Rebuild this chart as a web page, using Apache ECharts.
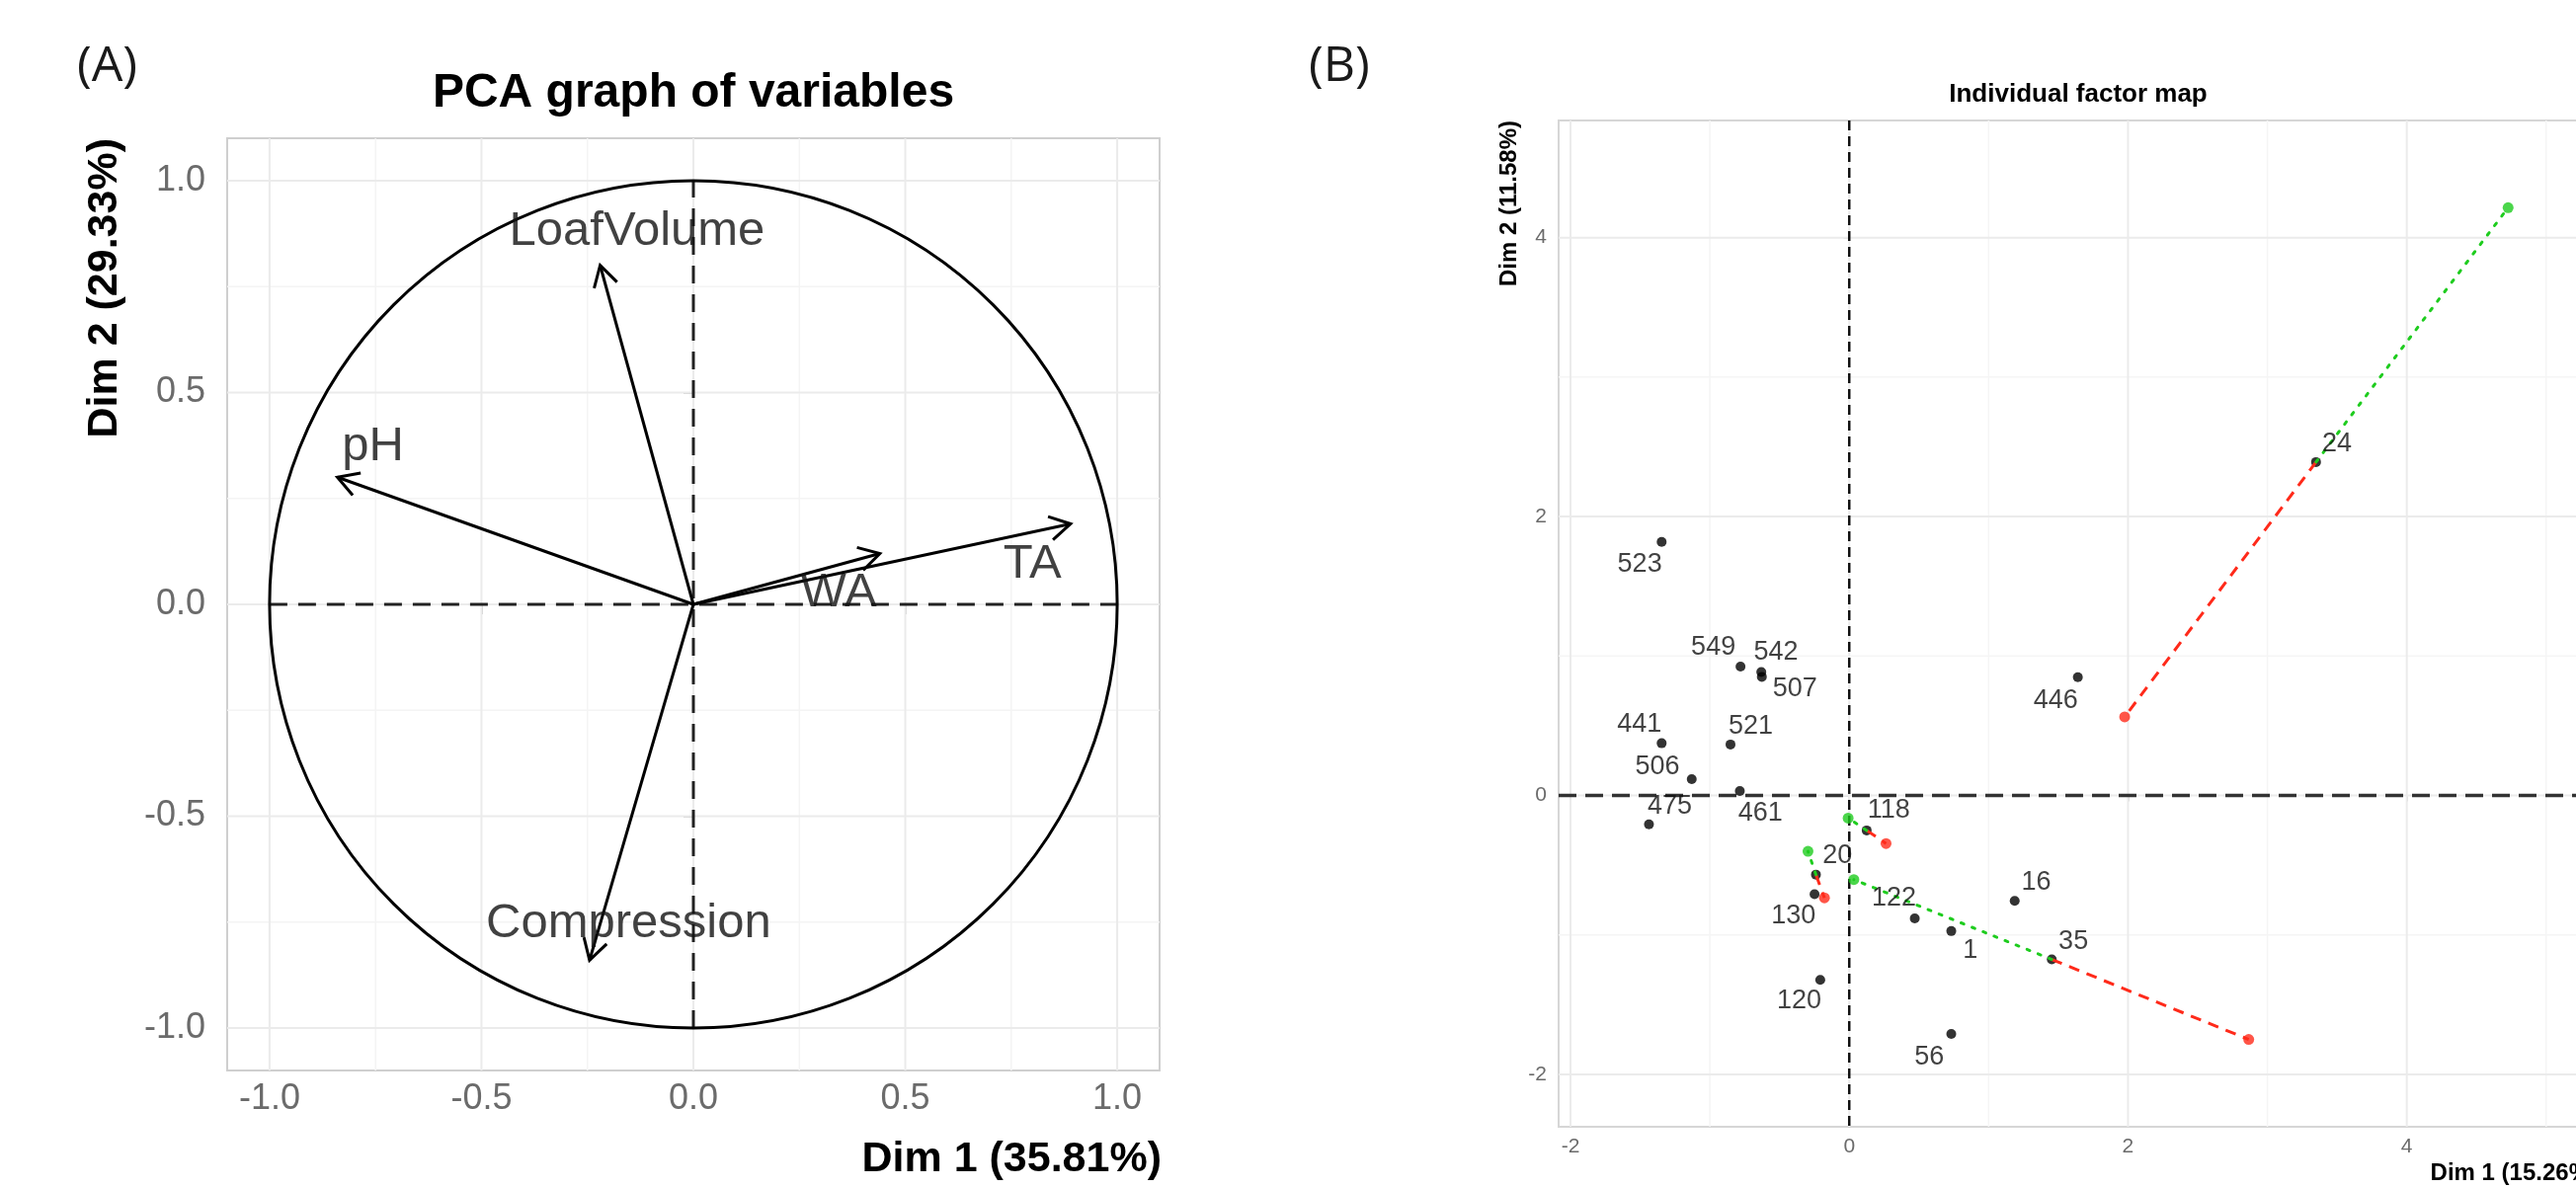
<!DOCTYPE html>
<html><head><meta charset="utf-8">
<script src="https://cdn.jsdelivr.net/npm/echarts@6/dist/echarts.min.js"></script>
<style>html,body{margin:0;padding:0;background:#fff}#c{width:2608px;height:1203px}</style>
</head><body><div id="c"></div>
<script>
// ---------- Panel A: variables ----------
const varNames = ['LoafVolume', 'pH', 'TA', 'WA', 'Compression'];
const varDim1 = [-0.22, -0.84, 0.89, 0.44, -0.245];
const varDim2 = [0.80, 0.30, 0.19, 0.12, -0.84];
const varLabelDim1 = [-0.133, -0.756, 0.80, 0.343, -0.153];
const varLabelDim2 = [0.88, 0.371, 0.094, 0.028, -0.754];
const circleRadius = [1];
const majorTicksA = [-1, -0.5, 0, 0.5, 1];
const minorTicksA = [-0.75, -0.25, 0.25, 0.75];
const refSegmentsA = [[-1, 0, 1, 0], [0, -1, 0, 1]];

// ---------- Panel B: individuals ----------
const indNames = ['523','549','542','507','441','521','506','461','475','118','20','130','122','1','16','35','120','56','446','24'];
const indDim1 = [-1.346,-0.780,-0.631,-0.627,-1.346,-0.852,-1.130,-0.785,-1.437,0.125,-0.239,-0.249,0.470,0.732,1.187,1.453,-0.208,0.732,1.640,3.349];
const indDim2 = [1.819,0.924,0.886,0.851,0.375,0.366,0.117,0.032,-0.206,-0.250,-0.567,-0.708,-0.881,-0.972,-0.755,-1.175,-1.322,-1.709,0.848,2.391];
const indLabelDim1 = [-1.503,-0.975,-0.526,-0.390,-1.506,-0.707,-1.377,-0.637,-1.288,0.283,-0.084,-0.400,0.321,0.868,1.342,1.608,-0.359,0.574,1.481,3.500];
const indLabelDim2 = [1.658,1.060,1.027,0.768,0.507,0.498,0.205,-0.127,-0.077,-0.109,-0.432,-0.867,-0.734,-1.110,-0.623,-1.049,-1.474,-1.877,0.678,2.521];
const partialInd = ['24', '35', '118', '20'];
const greenDim1 = [4.727, 0.033, -0.008, -0.296];
const greenDim2 = [4.215, -0.603, -0.162, -0.400];
const redDim1 = [1.976, 2.866, 0.264, -0.178];
const redDim2 = [0.564, -1.749, -0.344, -0.734];
const majorTicksBx = [-2, 0, 2, 4];
const minorTicksBx = [-1, 1, 3, 5];
const majorTicksBy = [-2, 0, 2, 4];
const minorTicksBy = [-1, 1, 3];

const FONT = 'Liberation Sans, Arial, Helvetica, sans-serif';

function gridSeries(ai, xT, yT, color, width) {
  const data = xT.map(v => [v, 0]).concat(yT.map(v => [v, 1]));
  return {
    type: 'custom', xAxisIndex: ai, yAxisIndex: ai, z: 1, silent: true,
    data: data,
    renderItem(params, api) {
      const v = api.value(0), dir = api.value(1), cs = params.coordSys;
      if (dir === 0) {
        const x = api.coord([v, 0])[0];
        return {type: 'line', shape: {x1: x, y1: cs.y, x2: x, y2: cs.y + cs.height}, style: {stroke: color, lineWidth: width}};
      }
      const y = api.coord([0, v])[1];
      return {type: 'line', shape: {x1: cs.x, y1: y, x2: cs.x + cs.width, y2: y}, style: {stroke: color, lineWidth: width}};
    }
  };
}

const option = {
  animation: false,
  backgroundColor: '#ffffff',
  grid: [
    {left: 230, top: 140, width: 944, height: 944, show: true, borderColor: '#cfcfcf', borderWidth: 2, backgroundColor: 'transparent', containLabel: false, outerBoundsMode: 'none'},
    {left: 1578, top: 122, width: 1052, height: 1019, show: true, borderColor: '#d6d6d6', borderWidth: 2, backgroundColor: 'transparent', containLabel: false, outerBoundsMode: 'none'}
  ],
  xAxis: [
    {type: 'value', gridIndex: 0, min: -1.1, max: 1.1,
     axisLine: {show: false}, splitLine: {show: false},
     axisTick: {show: true, customValues: majorTicksA, length: 10, lineStyle: {color: '#cccccc', width: 2}},
     axisLabel: {customValues: majorTicksA, formatter: v => v.toFixed(1), fontFamily: FONT, fontSize: 36, color: '#6b6b6b', margin: 11}},
    {type: 'value', gridIndex: 1, min: -2.085, max: 5.37,
     axisLine: {show: false}, splitLine: {show: false},
     axisTick: {show: true, customValues: majorTicksBx, length: 6, lineStyle: {color: '#cccccc', width: 1.5}},
     axisLabel: {customValues: majorTicksBx, formatter: v => String(v), fontFamily: FONT, fontSize: 21, color: '#6b6b6b', margin: 10}}
  ],
  yAxis: [
    {type: 'value', gridIndex: 0, min: -1.1, max: 1.1,
     axisLine: {show: false}, splitLine: {show: false},
     axisTick: {show: true, customValues: majorTicksA, length: 10, lineStyle: {color: '#cccccc', width: 2}},
     axisLabel: {customValues: majorTicksA, formatter: v => v.toFixed(1), fontFamily: FONT, fontSize: 36, color: '#6b6b6b', margin: 22}},
    {type: 'value', gridIndex: 1, min: -2.375, max: 4.84,
     axisLine: {show: false}, splitLine: {show: false},
     axisTick: {show: true, customValues: majorTicksBy, length: 6, lineStyle: {color: '#cccccc', width: 1.5}},
     axisLabel: {customValues: majorTicksBy, formatter: v => String(v), fontFamily: FONT, fontSize: 21, color: '#6b6b6b', margin: 12}}
  ],
  graphic: [
    {type: 'text', x: 78, y: 68, style: {text: '(A)', font: '50px "Open Sans", "Noto Sans", sans-serif', fill: '#1a1a1a', textVerticalAlign: 'middle'}},
    {type: 'text', x: 1325, y: 68, style: {text: '(B)', font: '50px "Open Sans", "Noto Sans", sans-serif', fill: '#1a1a1a', textVerticalAlign: 'middle'}},
    {type: 'text', x: 702, y: 95, style: {text: 'PCA graph of variables', font: 'bold 48px ' + FONT, fill: '#000', textAlign: 'center', textVerticalAlign: 'middle'}},
    {type: 'text', x: 2104, y: 96, style: {text: 'Individual factor map', font: 'bold 26px ' + FONT, fill: '#000', textAlign: 'center', textVerticalAlign: 'middle'}},
    {type: 'text', x: 1176, y: 1174, style: {text: 'Dim 1 (35.81%)', font: 'bold 43px ' + FONT, fill: '#000', textAlign: 'right', textVerticalAlign: 'middle'}},
    {type: 'text', x: 106, y: 140, rotation: Math.PI / 2, style: {text: 'Dim 2 (29.33%)', font: 'bold 43px ' + FONT, fill: '#000', textAlign: 'right', textVerticalAlign: 'middle'}},
    {type: 'text', x: 2630, y: 1188, style: {text: 'Dim 1 (15.26%)', font: 'bold 24px ' + FONT, fill: '#000', textAlign: 'right', textVerticalAlign: 'middle'}},
    {type: 'text', x: 1528, y: 122, rotation: Math.PI / 2, style: {text: 'Dim 2 (11.58%)', font: 'bold 24px ' + FONT, fill: '#000', textAlign: 'right', textVerticalAlign: 'middle'}}
  ],
  series: [
    // Panel A grid
    gridSeries(0, minorTicksA, minorTicksA, '#f4f4f4', 1.5),
    gridSeries(0, majorTicksA, majorTicksA, '#ebebeb', 2),
    // Panel A reference dashed lines
    {type: 'custom', xAxisIndex: 0, yAxisIndex: 0, z: 2, silent: true, data: refSegmentsA,
     renderItem(params, api) {
       const a = api.coord([api.value(0), api.value(1)]), b = api.coord([api.value(2), api.value(3)]);
       return {type: 'line', shape: {x1: a[0], y1: a[1], x2: b[0], y2: b[1]}, style: {stroke: '#222', lineWidth: 3, lineDash: [18, 11]}};
     }},
    // Correlation circle
    {type: 'custom', xAxisIndex: 0, yAxisIndex: 0, z: 3, silent: true, data: circleRadius.map(r => [0, 0, r]),
     renderItem(params, api) {
       const c = api.coord([api.value(0), api.value(1)]);
       const r = api.size([api.value(2), 0])[0];
       return {type: 'circle', shape: {cx: c[0], cy: c[1], r: r}, style: {stroke: '#000', lineWidth: 3, fill: null}};
     }},
    // Arrows
    {type: 'custom', xAxisIndex: 0, yAxisIndex: 0, z: 4, silent: true, data: varDim1.map((v, i) => [v, varDim2[i]]),
     renderItem(params, api) {
       const o = api.coord([0, 0]);
       const p = api.coord([api.value(0), api.value(1)]);
       const ang = Math.atan2(p[1] - o[1], p[0] - o[0]);
       const L = 24, a = Math.PI / 6;
       const h1 = [p[0] - L * Math.cos(ang - a), p[1] - L * Math.sin(ang - a)];
       const h2 = [p[0] - L * Math.cos(ang + a), p[1] - L * Math.sin(ang + a)];
       return {type: 'group', children: [
         {type: 'line', shape: {x1: o[0], y1: o[1], x2: p[0], y2: p[1]}, style: {stroke: '#000', lineWidth: 3}},
         {type: 'polyline', shape: {points: [h1, p, h2]}, style: {stroke: '#000', lineWidth: 3, fill: null}}
       ]};
     }},
    // Variable labels
    {type: 'scatter', xAxisIndex: 0, yAxisIndex: 0, z: 5, silent: true, symbolSize: 0,
     data: varNames.map((n, i) => ({name: n, value: [varLabelDim1[i], varLabelDim2[i]]})),
     label: {show: true, position: 'inside', formatter: p => p.name, fontFamily: FONT, fontSize: 49, color: '#111'}},

    // Panel B grid
    gridSeries(1, minorTicksBx, minorTicksBy, '#f5f5f5', 1.5),
    gridSeries(1, majorTicksBx, majorTicksBy, '#ebebeb', 2),
    // Panel B zero lines
    {type: 'custom', xAxisIndex: 1, yAxisIndex: 1, z: 2, silent: true, data: [[0, 0]],
     renderItem(params, api) {
       const cs = params.coordSys;
       const o = api.coord([api.value(0), api.value(1)]);
       return {type: 'group', children: [
         {type: 'line', shape: {x1: cs.x, y1: o[1], x2: cs.x + cs.width, y2: o[1]}, style: {stroke: '#333', lineWidth: 3.5, lineDash: [18, 9]}},
         {type: 'line', shape: {x1: o[0], y1: cs.y, x2: o[0], y2: cs.y + cs.height}, style: {stroke: '#111', lineWidth: 2.5, lineDash: [10, 6]}}
       ]};
     }},
    // Individuals
    {type: 'scatter', xAxisIndex: 1, yAxisIndex: 1, z: 3, silent: true, symbolSize: 10,
     itemStyle: {color: '#000'}, data: indDim1.map((v, i) => [v, indDim2[i]])},
    // Partial lines: red dashed
    {type: 'lines', coordinateSystem: 'cartesian2d', xAxisIndex: 1, yAxisIndex: 1, z: 4, silent: true,
     data: partialInd.map((n, i) => { const k = indNames.indexOf(n); return {coords: [[indDim1[k], indDim2[k]], [redDim1[i], redDim2[i]]]}; }),
     lineStyle: {color: '#ff2a1a', width: 3, type: [11, 8], opacity: 1}},
    // Partial lines: green dotted
    {type: 'lines', coordinateSystem: 'cartesian2d', xAxisIndex: 1, yAxisIndex: 1, z: 4, silent: true,
     data: partialInd.map((n, i) => { const k = indNames.indexOf(n); return {coords: [[indDim1[k], indDim2[k]], [greenDim1[i], greenDim2[i]]]}; }),
     lineStyle: {color: '#1ecc1e', width: 3, type: [3, 9], cap: 'round', opacity: 1}},
    // Partial points
    {type: 'scatter', xAxisIndex: 1, yAxisIndex: 1, z: 5, silent: true, symbolSize: 11,
     itemStyle: {color: '#ff2a1a'}, data: redDim1.map((v, i) => [v, redDim2[i]])},
    {type: 'scatter', xAxisIndex: 1, yAxisIndex: 1, z: 5, silent: true, symbolSize: 11,
     itemStyle: {color: '#1ecc1e'}, data: greenDim1.map((v, i) => [v, greenDim2[i]])},
    // Individual labels
    {type: 'scatter', xAxisIndex: 1, yAxisIndex: 1, z: 6, silent: true, symbolSize: 0,
     data: indNames.map((n, i) => ({name: n, value: [indLabelDim1[i], indLabelDim2[i]]})),
     label: {show: true, position: 'inside', formatter: p => p.name, fontFamily: FONT, fontSize: 27, color: '#111'}}
  ]
};

const chart = echarts.init(document.getElementById('c'), null, {renderer: 'canvas'});
chart.setOption(option);
</script></body></html>
